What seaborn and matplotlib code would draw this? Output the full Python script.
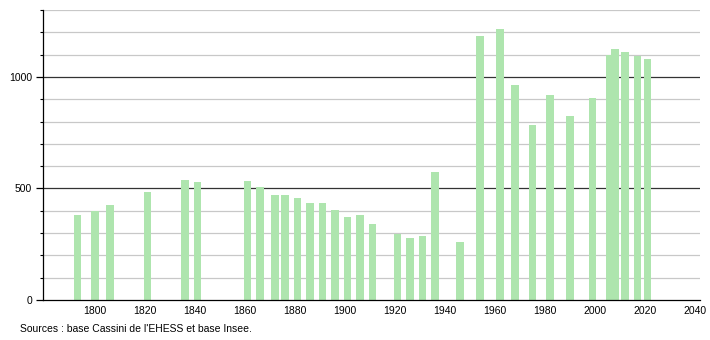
import matplotlib
matplotlib.use("Agg")
import matplotlib.pyplot as plt
import seaborn as sns
import pandas as pd
import numpy as np

years = [1793, 1800, 1806, 1821, 1836, 1841, 1861, 1866, 1872, 1876, 1881, 1886,
         1891, 1896, 1901, 1906, 1911, 1921, 1926, 1931, 1936, 1946, 1954, 1962,
         1968, 1975, 1982, 1990, 1999, 2006, 2008, 2012, 2017, 2021]
population = [382, 400, 427, 482, 539, 527, 535, 505, 470, 470, 457, 436,
              436, 403, 373, 382, 342, 295, 277, 286, 574, 261, 1182, 1216,
              966, 785, 921, 827, 906, 1100, 1124, 1110, 1092, 1082]
x_ticks = [1800, 1820, 1840, 1860, 1880, 1900, 1920, 1940, 1960, 1980, 2000, 2020, 2040]
y_major = [0, 500, 1000]
source_text = "Sources : base Cassini de l'EHESS et base Insee."

df = pd.DataFrame({"year": years, "population": population})

sns.set_style("white")
plt.rcParams["font.family"] = ["Liberation Sans", "DejaVu Sans"]
plt.rcParams["text.color"] = "black"
plt.rcParams["xtick.color"] = "black"
plt.rcParams["ytick.color"] = "black"

fig = plt.figure(figsize=(7.1, 3.4), dpi=100)
ax = fig.add_axes([43/710, 40/340, (700-43)/710, (300-10)/340])

# gridlines
for v in range(100, 1301, 100):
    if v in y_major:
        ax.axhline(v, color="#333333", lw=0.9, zorder=0)
    else:
        ax.axhline(v, color="#c8c8c8", lw=0.9, zorder=0)

sns.barplot(data=df, x="year", y="population", native_scale=True, width=1.5,
            color="#aee5ae", saturation=1, ax=ax, zorder=2, errorbar=None,
            linewidth=0, edgecolor="none")

ax.set_xlim(1779.2, 2042)
ax.set_ylim(0, 1300)
ax.set_xticks(x_ticks)
ax.set_xticklabels([str(t) for t in x_ticks], fontsize=7.5, color="black")
ax.set_yticks(y_major)
ax.set_yticklabels([str(t) for t in y_major], fontsize=7.5, color="black")
ax.set_yticks(np.arange(0, 1301, 100), minor=True)
ax.tick_params(axis="x", length=0, pad=4)
ax.tick_params(axis="y", which="major", left=True, length=5, width=0.9, color="black", pad=3)
ax.tick_params(axis="y", which="minor", left=True, length=2.5, width=0.8, color="black")
ax.set_xlabel("")
ax.set_ylabel("")

for s in ["top", "right"]:
    ax.spines[s].set_visible(False)
ax.spines["left"].set_color("black")
ax.spines["bottom"].set_color("black")
ax.spines["left"].set_linewidth(0.9)
ax.spines["bottom"].set_linewidth(0.9)

fig.text(20/710, 1 - 329/340, source_text, fontsize=7.5, va="center", ha="left", color="black")

fig.savefig("out.png", dpi=100)
